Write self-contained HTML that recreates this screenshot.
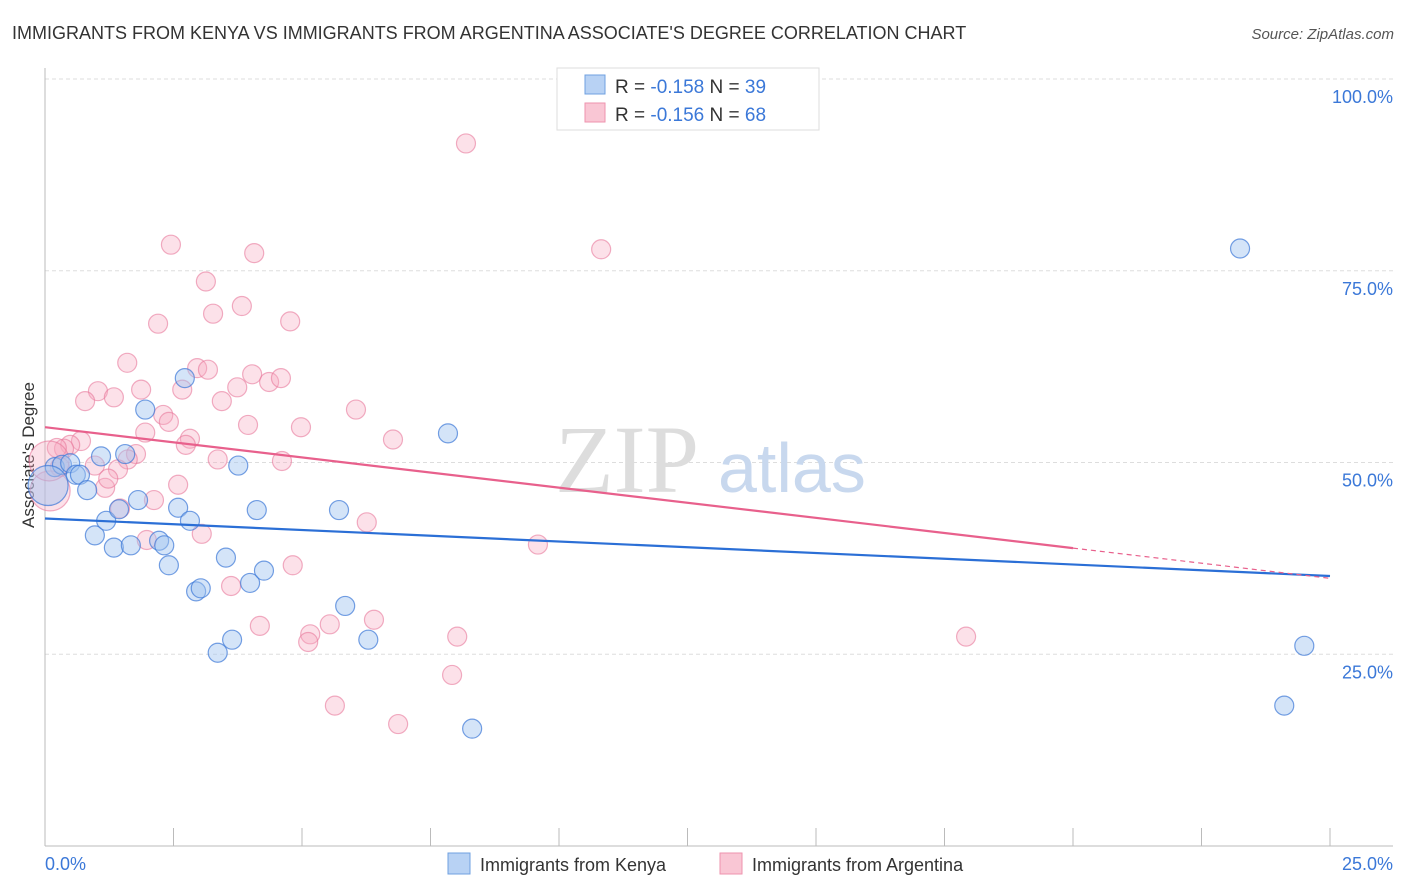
<!DOCTYPE html>
<html><head><meta charset="utf-8">
<style>
body{margin:0;background:#fff;font-family:"Liberation Sans",sans-serif;}
#wrap{position:relative;width:1406px;height:892px;overflow:hidden;}
</style></head>
<body><div id="wrap">
<svg id="svg" width="1406" height="892" xmlns="http://www.w3.org/2000/svg">
<text x="12" y="39" font-size="18" fill="#333">IMMIGRANTS FROM KENYA VS IMMIGRANTS FROM ARGENTINA ASSOCIATE'S DEGREE CORRELATION CHART</text>
<text x="1394" y="39" font-size="15" fill="#555" font-style="italic" text-anchor="end">Source: ZipAtlas.com</text>
<g id="grid"></g>
<text x="555" y="492" font-size="96" fill="#ddd" font-family="Liberation Serif">ZIP</text>
<text x="718" y="492" font-size="70" fill="#c8d8ee">atlas</text>
<line x1="45" y1="68" x2="45" y2="846" stroke="#bbb"/>
<line x1="45" y1="846" x2="1393" y2="846" stroke="#bbb"/>
<g id="ticks"></g>
<g id="ylabels"></g>
<text transform="translate(34,455) rotate(-90)" font-size="17" fill="#333" text-anchor="middle">Associate's Degree</text>
<text x="45" y="870" font-size="18" fill="#3b78d8">0.0%</text>
<text x="1393" y="870" font-size="18" fill="#3b78d8" text-anchor="end">25.0%</text>
<g id="pts"></g>
<g id="lines"></g>
<g>
<rect x="557" y="68" width="262" height="62" fill="#fff" stroke="#ddd"/>
<rect x="585" y="75" width="20" height="19" fill="#b8d2f4" stroke="#6fa0e0"/>
<rect x="585" y="103" width="20" height="19" fill="#f9c6d4" stroke="#ee93ae"/>
<text x="615" y="93" font-size="19" fill="#333">R = <tspan fill="#3b78d8">-0.158</tspan>   N = <tspan fill="#3b78d8">39</tspan></text>
<text x="615" y="121" font-size="19" fill="#333">R = <tspan fill="#3b78d8">-0.156</tspan>   N = <tspan fill="#3b78d8">68</tspan></text>
</g>
<g>
<rect x="448" y="853" width="22" height="21" fill="#b8d2f4" stroke="#6fa0e0"/>
<text x="480" y="871" font-size="18" fill="#333">Immigrants from Kenya</text>
<rect x="720" y="853" width="22" height="21" fill="#f9c6d4" stroke="#ee93ae"/>
<text x="752" y="871" font-size="18" fill="#333">Immigrants from Argentina</text>
</g>
</svg>
<script>
const yTicks=[25,50,75,100];
const yTickLabels=["25.0%","50.0%","75.0%","100.0%"];
const kenyaX=[0.19,0.33,0.49,0.6,0.68,0.82,0.97,1.09,1.19,1.34,1.44,1.56,1.67,1.81,1.95,2.22,2.32,2.41,2.59,2.72,2.82,2.94,3.03,3.36,3.52,3.64,3.76,3.99,4.12,4.26,5.72,5.84,6.29,7.84,8.31,23.25,24.5,24.11,0.06];
const kenyaY=[49.4,49.7,49.9,48.4,48.4,46.4,40.5,50.8,42.4,38.9,43.9,51.1,39.2,45.1,56.9,39.8,39.2,36.6,44.1,61.0,42.4,33.2,33.6,25.2,37.6,26.9,49.6,34.3,43.8,35.9,43.8,31.3,26.9,53.8,15.3,77.9,26.1,18.3,47.0];
const argX=[8.19,2.45,4.07,10.82,3.13,3.83,3.27,2.2,4.77,1.6,2.96,3.17,4.03,3.74,4.36,4.59,1.03,1.87,2.67,1.34,0.78,3.44,2.3,2.41,6.05,3.95,4.98,1.95,0.7,0.49,0.37,2.82,2.74,6.77,1.77,3.36,1.61,1.42,0.97,4.61,0.23,0.29,2.59,2.12,1.46,1.17,1.23,3.05,1.98,6.26,9.59,4.82,3.62,4.18,5.16,5.12,5.54,6.4,8.02,17.92,5.64,6.87,7.92,0.1,0.08];
const argY=[91.6,78.4,77.3,77.8,73.6,70.4,69.4,68.1,68.4,63.0,62.3,62.1,61.5,59.8,60.5,61.0,59.3,59.5,59.5,58.5,58.0,58.0,56.2,55.3,56.9,54.9,54.6,53.9,52.8,52.3,51.8,53.1,52.3,53.0,51.1,50.4,50.4,49.1,49.6,50.2,51.9,49.4,47.1,45.1,44.0,46.7,47.9,40.7,39.9,42.2,39.3,36.6,33.9,28.7,27.6,26.6,28.9,29.5,27.3,27.3,18.3,15.9,22.3,46.3,50.2];
const kenyaSizes=[11,11,11,11,11,11,11,11,11,11,11,11,11,11,11,11,11,11,11,11,11,11,11,11,11,11,11,11,11,11,11,11,11,11,11,11,11,11,22];
const kenyaTrend=[42.7,35.2];
const argTrend=[54.6,34.9];
const argSolidEnd=20.0;
const X=v=>45+v/25*1285, Y=v=>846-v/100*767;
const NS="http://www.w3.org/2000/svg";
function mk(t,a,p){const e=document.createElementNS(NS,t);for(const k in a)e.setAttribute(k,a[k]);p.appendChild(e);return e;}
const grid=document.getElementById('grid'),yl=document.getElementById('ylabels');
yTicks.forEach((t,i)=>{
 const l=mk('line',{x1:45,x2:1393,y1:Y(t),y2:Y(t),stroke:'#ddd','stroke-dasharray':'4,3'},grid);
 
 
 const tx=mk('text',{x:1393,y:Y(t)+24,'font-size':18,fill:'#3b78d8','text-anchor':'end'},yl);
 tx.textContent=yTickLabels[i];
 
 
});
const ticks=document.getElementById('ticks');
for(let i=1;i<=10;i++){const x=45+i*128.5;const l=mk('line',{x1:x,x2:x,y1:828,y2:846,stroke:'#bbb'},ticks);
 
 }
const pts=document.getElementById('pts');
argX.forEach((x,i)=>{const r=(i>=argX.length-2)?20:9.5;
 const c=mk('circle',{cx:X(x),cy:Y(argY[i]),r:r,fill:'rgba(246,168,192,0.35)',stroke:'rgba(232,120,155,0.6)','stroke-width':1.2},pts);
 
 });
kenyaX.forEach((x,i)=>{const r=kenyaSizes[i]===22?20:9.5;
 const c=mk('circle',{cx:X(x),cy:Y(kenyaY[i]),r:r,fill:'rgba(160,196,240,0.45)',stroke:'rgba(60,120,215,0.7)','stroke-width':1.2},pts);
 
 });
const lines=document.getElementById('lines');
const kl=mk('line',{x1:X(0),y1:Y(kenyaTrend[0]),x2:X(25),y2:Y(kenyaTrend[1]),stroke:'#2b6fd6','stroke-width':2.2},lines);


const ay=x=>argTrend[0]+(argTrend[1]-argTrend[0])*x/25;
const al=mk('line',{x1:X(0),y1:Y(ay(0)),x2:X(argSolidEnd),y2:Y(ay(argSolidEnd)),stroke:'#e8608c','stroke-width':2.2},lines);


const ad=mk('line',{x1:X(argSolidEnd),y1:Y(ay(argSolidEnd)),x2:X(25),y2:Y(ay(25)),stroke:'#e8608c','stroke-width':1.2,'stroke-dasharray':'5,4'},lines);


</script>
</div></body></html>
